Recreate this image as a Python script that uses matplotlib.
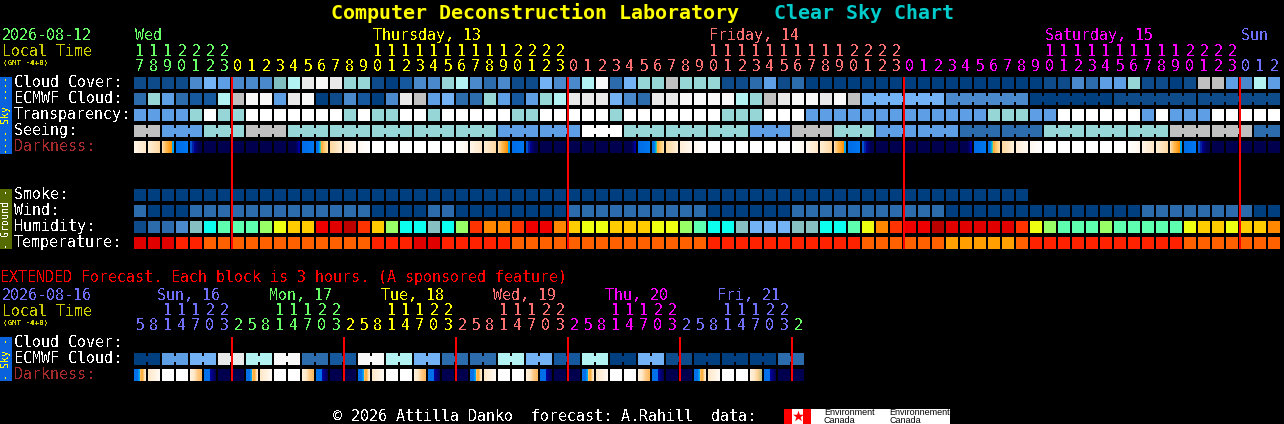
import numpy as np
import matplotlib
matplotlib.use("Agg")
import matplotlib.pyplot as plt
from matplotlib.colors import to_rgb

# ---------------------------------------------------------------- data
day_names = ["Wed", "Thursday, 13", "Friday, 14", "Saturday, 15", "Sun"]
day_label_cell = [0, 17, 41, 65, 79]
day_hours = [[17, 18, 19, 20, 21, 22, 23], list(range(24)), list(range(24)), list(range(24)), [0, 1, 2]]
day_colors = ["#66ff66", "#ffff00", "#ff7070", "#ff00ff", "#7070ff"]

ext_names = ["Sun, 16", "Mon, 17", "Tue, 18", "Wed, 19", "Thu, 20", "Fri, 21"]
ext_hours = [[5, 8, 11, 14, 17, 20, 23],
             [2, 5, 8, 11, 14, 17, 20, 23], [2, 5, 8, 11, 14, 17, 20, 23], [2, 5, 8, 11, 14, 17, 20, 23],
             [2, 5, 8, 11, 14, 17, 20, 23], [2, 5, 8, 11, 14, 17, 20, 23], [2]]
ext_colors = ["#7070ff", "#66ff66", "#ffff00", "#ff7070", "#ff00ff", "#7070ff", "#66ff66"]

# one level key per block, grouped Wed / Thu / Fri / Sat / Sun
cloud_cover = ("1111465"
               "4447" "9bab" "8810" "2448" "9434" "1164"
               "49a3" "688c" "8881" "1351" "3000" "0000"
               "0000" "0000" "0011" "4355" "8110" "1cc5"
               "495")
ecmwf_cloud = ("3853229"
               "caa5" "ba01" "4204" "bc56" "3385" "2589"
               "bbb6" "43bb" "aaaa" "98cb" "aaba" "c666"
               "6664" "4444" "4000" "0001" "1111" "1111"
               "111")
transparency = ("55558d8"
                "8ddd" "dddd" "8d88" "dd8d" "dddd" "88dd"
                "ddd8" "dddd" "ddd8" "88dd" "d555" "5555"
                "5555" "5588" "855d" "dddd" "d5d5" "55dd"
                "ddd")
seeing = "cc" + "555" + "888" + "ccc" + "8" * 15 + "5" * 6 + "ddd" + "8" * 9 + "555" + "ccc" + "888" + "5" * 6 + "3" * 6 + "8" * 9 + "c" * 6 + "33"
smoke = "0" * 64
wind = "3" + "000" + "3" * 13 + "0000" + "33" + "0" * 8 + "3" * 10 + "0" * 6 + "3" * 11 + "0" * 14 + "3" * 8 + "00"
humidity = ("1334TCG"
            "GGLY" "AAED" "KRAL" "CCTC" "LROO" "REEO"
            "AYYA" "AAYY" "LGCC" "T666" "TTCC" "GYOR"
            "EEKD" "DDDD" "RYLG" "GGLG" "GGGG" "YAAY"
            "AAO")
temperature = "DDD" + "rr" + "o" * 12 + "rrr" + "DD" + "r" * 5 + "o" * 14 + "r" * 11 + "o" * 6 + "a" * 5 + "o" + "r" * 11 + "o" * 7
darkness = ("abcBfnn"
            "nnnn" "rBuv" "wxWW" "WWWW" "yabc" "Bfnn"
            "nnnn" "rBuv" "wxWW" "WWWW" "yabc" "Bfnn"
            "nnnn" "rBuv" "wxWW" "WWWW" "yabc" "Bfnn"
            "nnn")
ecmwf_ext = "00" "55" "66" "bb" "99" "aa" "33" "22" "aa" "99" "66" "33" "33" "99" "66" "22" "99" "00" "66" "11" "00" "00" "00" "33"
darkness_ext = ("EFWWGHnn" "EFWWGHnn" "EFWWGHnn" "EFWWGHnn" "EFWWGHnn" "EFWWIHnn")

seeing_groups = [0, 2, 5, 8, 11, 14, 17, 20, 23, 26, 29, 32, 35, 38, 41, 44, 47, 50, 53, 56, 59, 62, 65, 68, 71, 74, 77, 80]
ecmwf_groups = [52, 58, 64, 70, 76]
ext_groups = list(range(0, 48, 2))

upper_labels = ["Cloud Cover:", "ECMWF Cloud:", "Transparency:", "Seeing:", "Darkness:"]
ground_labels = ["Smoke:", "Wind:", "Humidity:", "Temperature:"]
ext_labels = ["Cloud Cover:", "ECMWF Cloud:", "Darkness:"]

# ---------------------------------------------------------------- styles
palette = {"0": "#003f7f", "1": "#0d4b8b", "2": "#15589e", "3": "#2c6cac", "4": "#4a8acc", "5": "#5d9ee4",
           "6": "#72b2f5", "7": "#7fbfbf", "8": "#96d6d6", "9": "#b2f2f2", "a": "#f8f8f8", "b": "#e9e9e9",
           "c": "#c0c0c0", "d": "#ffffff",
           "T": "#86c0c0", "C": "#0cffee", "G": "#5fffb0", "L": "#99ff66", "Y": "#eeff11", "A": "#ffcc00",
           "O": "#ff8800", "R": "#ff3300", "E": "#ee0000", "D": "#e00000", "K": "#bb0000",
           "r": "#ff2200", "o": "#ff6000"}
temp_palette = dict(palette, a="#ffa000")
gradients = {
    "W": ["#ffffff", "#ffffff"], "y": ["#ffffff", "#fff8ee"], "a": ["#fff6e8", "#ffe8c8"], "b": ["#ffeed4", "#ffd8a4"],
    "c": ["#ffe0b0", "#ffd090", "#ffc878", "#ffc060", "#ffb848", "#ffb040", "#ffa830", "#ffa020", "#ff9810", "#ff9000", "#00a8f0", "#00a0f8"],
    "B": ["#006ce6", "#0078f0"],
    "f": ["#0050d0", "#0050d0", "#0020a8", "#0020a0", "#000090", "#000080", "#000070", "#000060", "#000058", "#000050", "#00004e", "#00004e"],
    "n": ["#00004e", "#00004e"],
    "r": ["#00004e"] * 8 + ["#000060", "#000070", "#0000a0", "#0000a0"],
    "u": ["#0070e8", "#0070e8", "#0080e8", "#00a8e0", "#40c8a0", "#ffb040", "#ffb040", "#ffc060", "#ffc870", "#ffd080", "#ffd890", "#ffe0a8"],
    "v": ["#ffd8a0", "#fff0d8"], "w": ["#ffeed8", "#fff8f0"], "x": ["#fff8f0", "#ffffff"],
    "E": ["#0070e8"] * 4 + ["#0090f0", "#00a8f0", "#ffc060", "#ffb040", "#ffb040", "#ffc870", "#ffe0b0", "#ffe8c8"],
    "F": ["#ffe8c8", "#fffaf4"],
    "G": ["#fff0dc", "#ffe8c8", "#ffc880", "#ffb860"],
    "I": ["#fff0dc", "#ffe8c8", "#ffd090", "#c0c080"],
    "H": ["#0070e8"] * 6 + ["#0000a0", "#000090", "#000080", "#000070", "#000060", "#000058"],
}

FONT = "DejaVu Sans Mono"
X0, PITCH, W = 134, 14, 12
px = lambda p: p * 72 / 100

plt.rcParams["text.antialiased"] = False
fig = plt.figure(figsize=(12.84, 4.24), dpi=100, facecolor="black")
ax = fig.add_axes([0, 0, 1, 1])
ax.set_facecolor("black")
ax.set_xlim(0, 1284)
ax.set_ylim(424, 0)
ax.axis("off")
ax.set_autoscale_on(False)


def label(x, y, s, color="white", size=15, **kw):
    kw.setdefault("family", FONT)
    ax.text(x, y, s, color=color, fontsize=px(size), va="baseline", ha=kw.pop("ha", "left"), **kw)


def rect(x, y, w, h, color, z=2):
    ax.bar([x], [h], width=w, bottom=y, align="edge", color=color, linewidth=0, antialiased=False, zorder=z)


def row(values, top, pal=palette, groups=None):
    values = list(values)
    xs = [X0 + PITCH * i for i in range(len(values))]
    ax.bar(xs, [W] * len(xs), width=W, bottom=top, align="edge", color=[pal[v] for v in values],
           linewidth=0, antialiased=False, zorder=2)
    if groups:
        n = len(values)
        ends = groups[1:] + [n]
        for s, e in zip(groups, ends):
            for i in range(s, e - 1):
                rect(xs[i] + W, top + 3, PITCH - W, 6, pal[values[i]])


def gradient_row(values, top):
    for i, key in enumerate(values):
        stops = np.array([to_rgb(c) for c in gradients[key]])
        pos = np.linspace(0, 1, len(stops))
        t = np.linspace(0, 1, W)
        rgb = np.stack([np.interp(t, pos, stops[:, k]) for k in range(3)], axis=1)[None, :, :]
        x = X0 + PITCH * i
        ax.imshow(rgb, extent=(x, x + W, top + W, top), aspect="auto", interpolation="nearest", zorder=2)
    ax.set_xlim(0, 1284)
    ax.set_ylim(424, 0)


def hour_labels(groups, colors, base_tens, base_units):
    i = 0
    for hours, color in zip(groups, colors):
        for h in hours:
            x = X0 + PITCH * i + 6
            label(x, base_units, str(h % 10), color, ha="center")
            if h >= 10:
                label(x, base_tens, str(h // 10), color, ha="center")
            i += 1


# title
label(331, 19, "Computer Deconstruction Laboratory", "#ffff00", size=20, weight="bold", antialiased=True)
label(774, 19, "Clear Sky Chart", "#00cccc", size=20, weight="bold", antialiased=True)

# upper header
label(2, 40, "2026-08-12", "#66ff66")
label(2, 55.6, "Local Time", "#cccc00")
label(3, 64.5, "(GMT -4+0)", "#cccc00", size=7.5, weight="bold")
for name, cell, color in zip(day_names, day_label_cell, day_colors):
    label(X0 + PITCH * cell + 1, 40, name, color)
hour_labels(day_hours, day_colors, 55.6, 70.6)

# upper rows
tops = [77, 93, 109, 125, 141]
for y, t in zip(tops, upper_labels):
    label(14, y + 10, t, "#a52a2a" if t.startswith("Dark") else "white")
row(cloud_cover, tops[0])
row(ecmwf_cloud, tops[1], groups=ecmwf_groups)
row(transparency, tops[2])
row(seeing, tops[3], groups=seeing_groups)
gradient_row(darkness, tops[4])

# ground rows
gtops = [189, 205, 221, 237]
for y, t in zip(gtops, ground_labels):
    label(14, y + 10, t)
row(smoke, gtops[0])
row(wind, gtops[1])
row(humidity, gtops[2])
row(temperature, gtops[3], pal=temp_palette)

# midnight lines, upper chart
i = 0
for hours in day_hours:
    for h in hours:
        if h == 0:
            rect(X0 + PITCH * i - 1, 77, 2, 172, "#ff0000", z=4)
        i += 1

# side bars
rect(0, 77, 12, 77, "#0a62dc")
ax.text(6, 115, "---- Sky ----", color="#ffff00", fontsize=px(10), rotation=90, family=FONT, ha="center", va="center")
rect(0, 189, 12, 60, "#556b00")
ax.text(6, 219, "- Ground -", color="white", fontsize=px(10), rotation=90, family=FONT, ha="center", va="center")
rect(0, 337, 12, 44, "#0a62dc")
ax.text(6, 359, "- Sky -", color="#ffff00", fontsize=px(10), rotation=90, family=FONT, ha="center", va="center")

# extended
label(0, 282, "EXTENDED Forecast. Each block is 3 hours. (A sponsored feature)", "#ff0000")
label(2, 300, "2026-08-16", "#7070ff")
label(2, 315.6, "Local Time", "#cccc00")
label(3, 324.5, "(GMT -4+0)", "#cccc00", size=7.5, weight="bold")
for k, (name, color) in enumerate(zip(ext_names, ext_colors)):
    label(157 + 112 * k, 300, name, color)
hour_labels(ext_hours, ext_colors, 315, 330)
etops = [337, 353, 369]
for y, t in zip(etops, ext_labels):
    label(14, y + 10, t, "#a52a2a" if t.startswith("Dark") else "white")
row(ecmwf_ext, etops[1], groups=ext_groups)
gradient_row(darkness_ext, etops[2])
i = 0
for hours in ext_hours:
    for h in hours:
        if h == 2:
            rect(X0 + PITCH * i - 1, 337, 2, 44, "#ff0000", z=4)
        i += 1

# footer
label(333, 421, "\u00a9 2026 Attilla Danko  forecast: A.Rahill  data:", "white")
rect(784, 409, 166, 15, "#ffffff")
rect(784, 409, 8, 15, "#ff0000", z=3)
rect(803, 409, 8, 15, "#ff0000", z=3)
ax.scatter([797.5], [416], marker="*", s=70, color="#ff0000", linewidths=0, zorder=3)
for x, a, b in [(824, "Environment", "Canada"), (889, "Environnement", "Canada")]:
    ax.text(x, 415, a, color="black", fontsize=px(9), family="Liberation Sans", va="baseline", zorder=3, antialiased=True)
    ax.text(x, 423, b, color="black", fontsize=px(9), family="Liberation Sans", va="baseline", zorder=3, antialiased=True)

fig.savefig("out.png", dpi=100, facecolor="black")
